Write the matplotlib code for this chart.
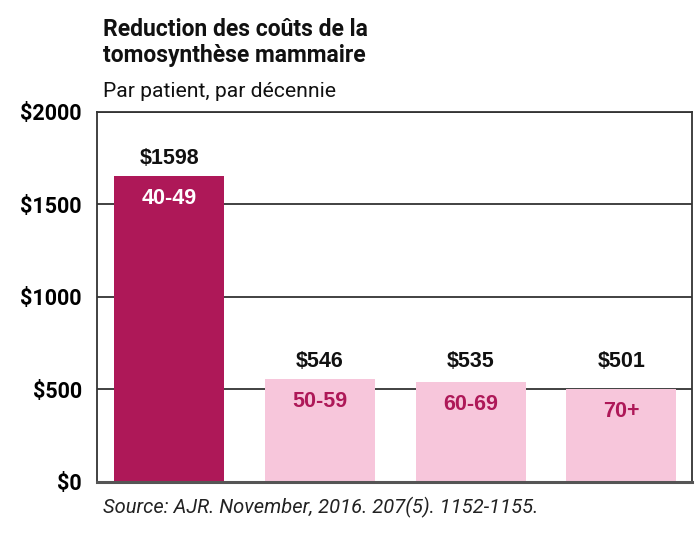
import numpy as np
import matplotlib.pyplot as plt

# data
groups = ['40-49', '50-59', '60-69', '70+']
cost_labels = ['$1598', '$546', '$535', '$501']
bar_heights = [1654, 557, 540, 503]      # drawn bar tops (slightly above printed values)
yticks = [0, 500, 1000, 1500, 2000]
ytick_labels = ['$0', '$500', '$1000', '$1500', '$2000']

title_lines = ['Reduction des coûts de la', 'tomosynthèse mammaire']
subtitle = 'Par patient, par décennie'
source = 'Source: AJR. November, 2016. 207(5). 1152-1155.'

dark = '#AE1858'
light = '#F7C6DB'
line_col = '#333333'

fig = plt.figure(figsize=(7, 5.34), dpi=100)
ax = fig.add_axes([0.1386, 0.0974, 0.85, 0.6929])

x = np.arange(len(groups))
colors = [dark] + [light] * (len(groups) - 1)
bars = ax.bar(x, bar_heights, width=0.73, color=colors, zorder=2)

ax.set_xlim(-0.48, 3.47)
ax.set_ylim(0, 2000)
ax.yaxis.grid(True, color=line_col, linewidth=1.3, zorder=1)
ax.set_yticks(yticks)
ax.set_yticklabels(ytick_labels, fontfamily='Roboto', fontweight='bold', fontsize=15.5)
ax.tick_params(axis='y', length=0, pad=11)
ax.set_xticks([])
for s in ['left', 'top', 'right']:
    ax.spines[s].set_color(line_col)
    ax.spines[s].set_linewidth(1.3)
ax.spines['bottom'].set_color('#555555')
ax.spines['bottom'].set_linewidth(2.2)

# value labels: short bars share one row
short_top = max(bar_heights[1:])
for i, (h, lab, g) in enumerate(zip(bar_heights, cost_labels, groups)):
    ytxt = max(h, short_top)
    ax.annotate(lab, (x[i], ytxt), xytext=(0, 12.5), textcoords='offset points',
                ha='center', va='center', fontfamily='Liberation Sans',
                fontweight='bold', fontsize=15.5, color='#111111')
    ax.annotate(g, (x[i], h), xytext=(0, -16), textcoords='offset points',
                ha='center', va='center', fontfamily='Liberation Sans',
                fontweight='bold', fontsize=15.5,
                color='white' if i == 0 else dark)

fig.text(0.147, 1 - 36 / 534, title_lines[0], fontfamily='Roboto', fontweight='bold',
         fontsize=16.5, va='baseline', color='#111111')
fig.text(0.147, 1 - 62 / 534, title_lines[1], fontfamily='Roboto', fontweight='bold',
         fontsize=16.5, va='baseline', color='#111111')
fig.text(0.147, 1 - 97 / 534, subtitle, fontfamily='Roboto', fontsize=15.2,
         va='baseline', color='#111111')
fig.text(0.147, 0.05, source, fontfamily='Roboto', fontstyle='italic',
         fontsize=14.5, va='center', color='#222222')

plt.savefig('out.png', dpi=100)
